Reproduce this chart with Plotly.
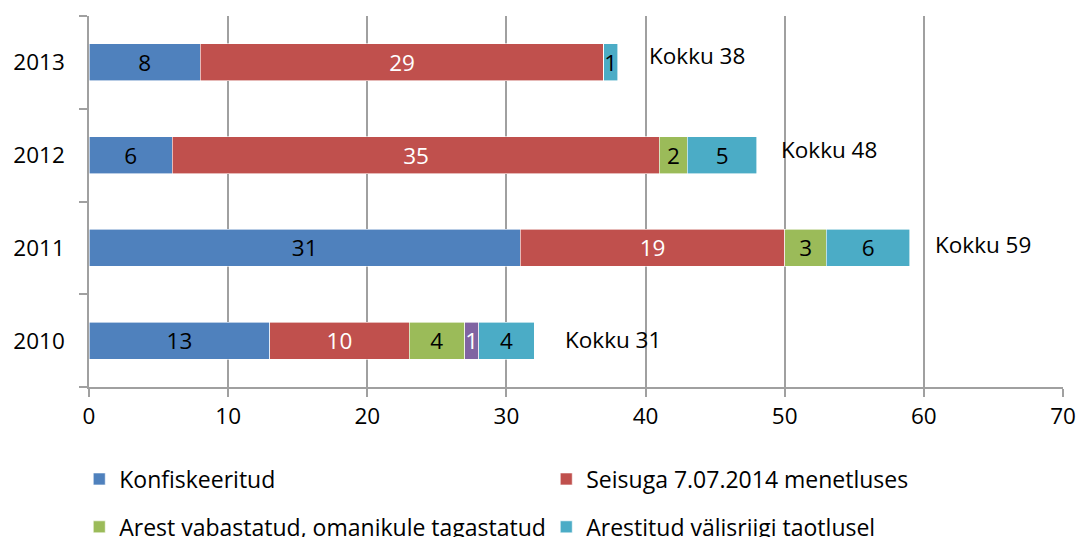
import plotly.graph_objects as go

years = ["2010", "2011", "2012", "2013"]
konfiskeeritud = [13, 31, 6, 8]
menetluses = [10, 19, 35, 29]
vabastatud = [4, 3, 2, 0]
lilla = [1, 0, 0, 0]
valisriik = [4, 6, 5, 1]
totals = [31, 59, 48, 38]

# (name, values, colour, label colour, legend id)
series = [
    ("Konfiskeeritud", konfiskeeritud, "#4F81BD", "black", "legend"),
    ("Seisuga 7.07.2014 menetluses", menetluses, "#C0504D", "white", "legend"),
    ("Arest vabastatud, omanikule tagastatud", vabastatud, "#9BBB59", "black", "legend2"),
    ("Muu", lilla, "#8064A2", "white", None),
    ("Arestitud välisriigi taotlusel", valisriik, "#4BACC6", "black", "legend2"),
]

FONT = "Open Sans"
FS = 22.5
LFS = 23
fig = go.Figure()
for name, vals, color, tcolor, leg in series:
    fig.add_trace(go.Bar(
        y=years, x=vals, name=name, orientation="h",
        marker=dict(color=color, line=dict(color="white", width=0.6)),
        text=[str(v) if v else "" for v in vals],
        textposition="inside", insidetextanchor="middle", textangle=0,
        constraintext="none",
        textfont=dict(color=tcolor, size=FS, family=FONT),
        showlegend=leg is not None, legend=leg if leg else "legend",
        width=0.4,
    ))

# label placement styles (pixels)
kokku_xshift = [43, 23, 22, 29]
kokku_yshift = [1, 3, 6, 7]
for i, (y, t) in enumerate(zip(years, totals)):
    fig.add_annotation(x=t, y=i, xref="x", yref="y", text=f"Kokku {t}", showarrow=False,
                       xanchor="left", xshift=kokku_xshift[i], yshift=kokku_yshift[i],
                       font=dict(size=FS, color="black", family=FONT))

fig.update_layout(
    barmode="stack",
    width=1081, height=537,
    margin=dict(l=89, r=18, t=16, b=150, autoexpand=False),
    plot_bgcolor="white", paper_bgcolor="white",
    font=dict(family=FONT, size=FS, color="black"),
    uniformtext=dict(mode="show", minsize=FS),
    legend=dict(orientation="h", x=-0.01, xanchor="left", y=-0.248, yanchor="middle",
                entrywidth=422, entrywidthmode="pixels", traceorder="normal",
                font=dict(size=LFS, family=FONT), itemwidth=30, bgcolor="rgba(0,0,0,0)"),
    legend2=dict(orientation="h", x=-0.01, xanchor="left", y=-0.377, yanchor="middle",
                 entrywidth=422, entrywidthmode="pixels", traceorder="normal",
                 font=dict(size=LFS, family=FONT), itemwidth=30, bgcolor="rgba(0,0,0,0)"),
    xaxis=dict(range=[0, 70], dtick=10, showgrid=True, gridcolor="#A0A0A0", gridwidth=1.5,
               showline=True, linecolor="#A0A0A0", linewidth=1.5,
               ticks="outside", tickcolor="#A0A0A0", ticklen=8, tickwidth=1.5,
               tickfont=dict(size=FS, family=FONT), zeroline=False),
    yaxis=dict(type="category", showline=True, linecolor="#A0A0A0", linewidth=1.5,
               ticks="outside", tickcolor="#A0A0A0", ticklen=8, tickwidth=1.5,
               tickson="boundaries", ticklabelstandoff=18,
               tickfont=dict(size=FS, family=FONT), range=[-0.5, 3.5]),
)

fig.write_html(
    "out.html",
    config={"displayModeBar": False},
    post_script="document.body.style.margin='0';document.body.style.overflow='hidden';",
)
